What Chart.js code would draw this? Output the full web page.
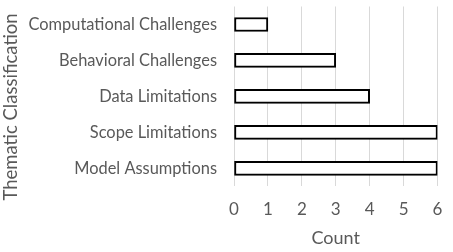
<!DOCTYPE html>
<html><head><meta charset="utf-8">
<script src="https://cdn.jsdelivr.net/npm/chart.js@4"></script>
<style>html,body{margin:0;padding:0;background:#fff}#wrap{width:453px;height:252px}</style>
</head><body><div id="wrap"><canvas id="c" width="453" height="252"></canvas></div>
<script>
const categories = ["Computational Challenges","Behavioral Challenges","Data Limitations","Scope Limitations","Model Assumptions"];
const counts = [1,3,4,6,6];
const xTicks = [0,1,2,3,4,5,6];
const xTitle = "Count";
const yTitle = "Thematic Classification";

const FONT = "Lato, 'Open Sans', sans-serif";
const TEXT = '#595959';

const yTitlePlugin = {
  id: 'yTitle',
  afterDraw(chart) {
    const ctx = chart.ctx;
    ctx.save();
    ctx.translate(11, 107);
    ctx.rotate(-Math.PI / 2);
    ctx.font = "18.5px " + FONT;
    ctx.fillStyle = TEXT;
    ctx.textAlign = 'center';
    ctx.textBaseline = 'middle';
    ctx.fillText(yTitle, 0, 0);
    ctx.restore();
  }
};

new Chart(document.getElementById('c'), {
  type: 'bar',
  data: { labels: categories, datasets: [{ data: counts, backgroundColor: '#ffffff', borderColor: '#000000', borderWidth: 2, barThickness: 14, borderSkipped: false }] },
  options: {
    indexAxis: 'y', responsive: false, animation: false,
    layout: { padding: { top: 6.5, right: 15.5, bottom: 0, left: 0 } },
    plugins: { legend: { display: false }, tooltip: { enabled: false } },
    scales: {
      x: {
        min: 0, max: 6,
        afterBuildTicks: s => { s.ticks = xTicks.map(v => ({ value: v })); },
        afterFit: s => { s.height = 65.7; s.paddingLeft = 0; s.paddingRight = 0; },
        grid: { color: '#d9d9d9', lineWidth: 1, drawTicks: false },
        border: { display: false },
        ticks: { color: TEXT, font: { family: FONT, size: 17 }, padding: 13 },
        title: { display: true, text: xTitle, color: TEXT, font: { family: FONT, size: 18 }, padding: { top: 7, bottom: 3.2 } }
      },
      y: {
        afterFit: s => { s.width = 234; s.paddingTop = 0; s.paddingBottom = 0; },
        grid: { display: false, drawTicks: false },
        border: { display: false },
        ticks: { color: TEXT, font: { family: FONT, size: 16.4 }, padding: 17 },
        title: { display: false }
      }
    }
  },
  plugins: [yTitlePlugin]
});
</script></body></html>
